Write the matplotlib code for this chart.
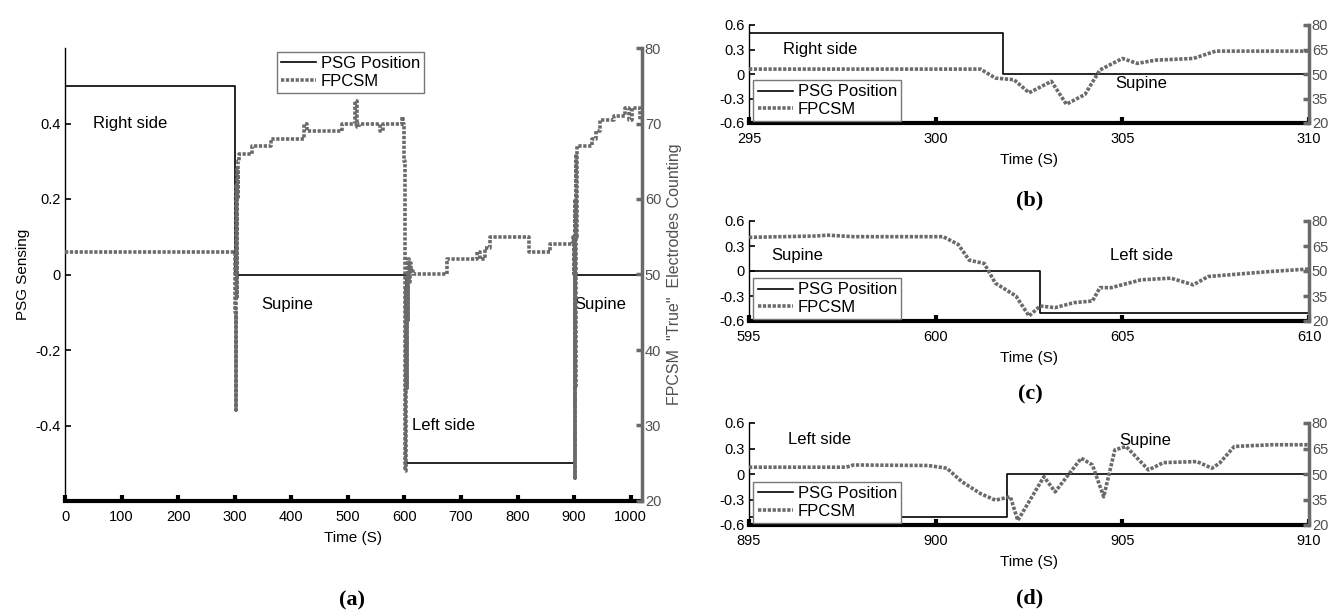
import numpy as np
import matplotlib
matplotlib.use('Agg')
import matplotlib.pyplot as plt

plt.rcParams['font.family'] = ['Liberation Sans', 'DejaVu Sans']
plt.rcParams['font.size'] = 10.5

# ---- (a) whole night ----
psg_a_t = [0, 301, 602, 902, 1020]
psg_a_v = [0.5, 0, -0.5, 0, 0]

fp_a_t = [0, 300, 301, 301.5, 302, 302.5, 303, 303.5, 304, 305, 306, 308,
          330, 365, 423, 428, 490, 512, 516, 520, 557, 562, 595, 598,
          600, 601, 601.5, 602, 602.5, 603, 604, 605, 606, 607, 608, 610, 612, 615,
          675, 728, 733, 742, 752, 820, 858,
          898, 899, 900, 901, 901.5, 902, 902.5, 903, 903.5, 904, 905,
          932, 938, 945, 970, 990, 997, 1002, 1017, 1022, 1020]
fp_a_v = [53, 53, 45, 32, 58, 40, 62, 47, 64, 60, 65, 66,
          67, 68, 70, 69, 70, 73, 69.5, 70, 69, 70, 70.8, 70,
          65, 40, 24, 48, 30, 45, 35, 50, 44, 52, 49, 51.5, 50.5, 50,
          52, 53, 52, 53.5, 55, 53, 54,
          55, 50, 54, 23, 60, 35, 65, 40, 66, 55, 67,
          68, 69, 70.5, 71, 72, 70.5, 72, 70.5, 72, 72]

# ---- (b) right side -> supine ----
psg_b_t = [295, 301.8, 310]
psg_b_v = [0.5, 0, 0]
fp_b_t = [295, 301.2, 301.6, 302.1, 302.5, 303.1, 303.5, 304.0, 304.4, 305.0,
          305.4, 305.9, 306.9, 307.5, 310]
fp_b_v = [53, 53, 47.5, 46.5, 38.5, 45.5, 31.5, 37.5, 52.5, 59.5,
          56.5, 58.5, 59.5, 64, 64]

# ---- (c) supine -> left side ----
psg_c_t = [595, 602.8, 610]
psg_c_v = [0, -0.5, -0.5]
fp_c_t = [595, 596.8, 597.1, 597.8, 600.2, 600.6, 600.9, 601.3, 601.6, 602.15,
          602.5, 602.8, 603.2, 603.7, 604.2, 604.4, 604.7, 605.5, 606.3, 606.9,
          607.3, 608.9, 610]
fp_c_v = [70.2, 71, 71.5, 70.6, 70.6, 66, 56.5, 54.5, 42.7, 35,
          23, 29, 28, 31, 32, 40, 40, 44.7, 45.7, 41.7,
          46.7, 49.6, 51.2]

# ---- (d) left side -> supine ----
psg_d_t = [895, 901.9, 910]
psg_d_v = [-0.5, 0, 0]
fp_d_t = [895, 897.6, 897.8, 899.8, 900.3, 900.7, 901.2, 901.6, 902.0, 902.2,
          902.9, 903.2, 903.9, 904.2, 904.5, 904.8, 905.1, 905.7, 906.1, 907.0,
          907.4, 907.6, 908.0, 909.0, 910]
fp_d_v = [54, 54, 55.3, 55, 53.4, 45.5, 38.5, 34.6, 36.6, 22.7,
          48.4, 39.5, 59.3, 55.3, 36.6, 64.2, 66.2, 52.4, 56.7, 57.3,
          53.4, 56.3, 66.2, 67.2, 67.2]

W, H = 1333, 613
fp_color = '#6a6a6a'
fp_style = dict(color=fp_color, lw=2.6, linestyle=(0, (0.9, 0.45)))


def box(left, top, right, bottom):
    return [left / W, 1 - bottom / H, (right - left) / W, (bottom - top) / H]


def style_axes(ax, ax2):
    ax.spines['top'].set_visible(False)
    ax.spines['right'].set_visible(False)
    ax.spines['bottom'].set_linewidth(3)
    ax.spines['left'].set_linewidth(1)
    for s in ['top', 'left', 'bottom']:
        ax2.spines[s].set_visible(False)
    ax2.spines['right'].set_color(fp_color)
    ax2.spines['right'].set_linewidth(2.5)
    ax.tick_params(direction='in', length=4, width=1.2, pad=3)
    ax.tick_params(axis='x', width=3, length=4, pad=6.5)
    ax2.tick_params(direction='in', length=4, width=2.5, color=fp_color,
                    labelcolor='#505050', pad=2)


def add_legend(ax2, handles, **kw):
    leg = ax2.legend(handles, ['PSG Position', 'FPCSM'], fontsize=12,
                     fancybox=False, framealpha=1, edgecolor='#777777',
                     handlelength=2.1, handletextpad=0.3, borderpad=0.25,
                     labelspacing=0.15, borderaxespad=0, **kw)
    leg.get_frame().set_linewidth(1)
    return leg


fig = plt.figure(figsize=(W / 100, H / 100), dpi=100)

# (a)
ax = fig.add_axes(box(65, 48, 642, 501))
ax2 = ax.twinx()
l1, = ax.plot(psg_a_t, psg_a_v, color='black', lw=1.2, drawstyle='steps-post')
l2, = ax2.plot(fp_a_t, fp_a_v, drawstyle='steps-post', **fp_style)
ax.set_xlim(0, 1020)
ax.set_ylim(-0.6, 0.6)
ax2.set_ylim(20, 80)
ax.set_xticks(np.arange(0, 1001, 100))
ax.set_yticks([-0.4, -0.2, 0, 0.2, 0.4])
ax.set_yticklabels(['-0.4', '-0.2', '0', '0.2', '0.4'])
ax2.set_yticks([20, 30, 40, 50, 60, 70, 80])
ax.set_xlabel('Time (S)', labelpad=5, fontsize=11)
ax.set_ylabel('PSG Sensing', labelpad=4, fontsize=11)
ax2.set_ylabel('FPCSM  "True"  Electrodes Counting', color='#505050',
               labelpad=4, fontsize=11.5)
style_axes(ax, ax2)
ax.text(116, 0.40, 'Right side', ha='center', va='center', fontsize=12)
ax.text(393, -0.08, 'Supine', ha='center', va='center', fontsize=12)
ax.text(669, -0.40, 'Left side', ha='center', va='center', fontsize=12)
ax.text(947, -0.08, 'Supine', ha='center', va='center', fontsize=12)
add_legend(ax2, [l1, l2], loc='upper left', bbox_to_anchor=(0.367, 0.991))
fig.text(352 / W, 1 - 600 / H, '(a)', ha='center', va='center',
         fontsize=16, fontweight='bold', family='Liberation Serif')

# (b), (c), (d)
zooms = [
    (psg_b_t, psg_b_v, fp_b_t, fp_b_v, (295, 310), 25, 123, '(b)', 200,
     [('Right side', 296.9, 0.3), ('Supine', 305.5, -0.12)]),
    (psg_c_t, psg_c_v, fp_c_t, fp_c_v, (595, 610), 221, 321, '(c)', 394,
     [('Supine', 596.3, 0.19), ('Left side', 605.5, 0.19)]),
    (psg_d_t, psg_d_v, fp_d_t, fp_d_v, (895, 910), 423, 525, '(d)', 598,
     [('Left side', 896.9, 0.4), ('Supine', 905.6, 0.4)]),
]
for pt, pv, ft, fv, xr, top, bottom, tag, tag_y, notes in zooms:
    ax = fig.add_axes(box(749, top, 1309, bottom))
    ax2 = ax.twinx()
    l1, = ax.plot(pt, pv, color='black', lw=1.2, drawstyle='steps-post')
    l2, = ax2.plot(ft, fv, **fp_style)
    ax.set_xlim(*xr)
    ax.set_ylim(-0.6, 0.6)
    ax2.set_ylim(20, 80)
    ax.set_xticks([xr[0], xr[0] + 5, xr[0] + 10, xr[1]])
    ax.set_yticks([-0.6, -0.3, 0, 0.3, 0.6])
    ax.set_yticklabels(['-0.6', '-0.3', '0', '0.3', '0.6'])
    ax2.set_yticks([20, 35, 50, 65, 80])
    ax.set_xlabel('Time (S)', labelpad=5, fontsize=11)
    style_axes(ax, ax2)
    for txt, x, y in notes:
        ax.text(x, y, txt, ha='center', va='center', fontsize=12)
    add_legend(ax2, [l1, l2], loc='lower left', bbox_to_anchor=(0.008, 0.02))
    fig.text(1030 / W, 1 - tag_y / H, tag, ha='center', va='center',
             fontsize=16, fontweight='bold', family='Liberation Serif')

fig.savefig('out.png', dpi=100)
